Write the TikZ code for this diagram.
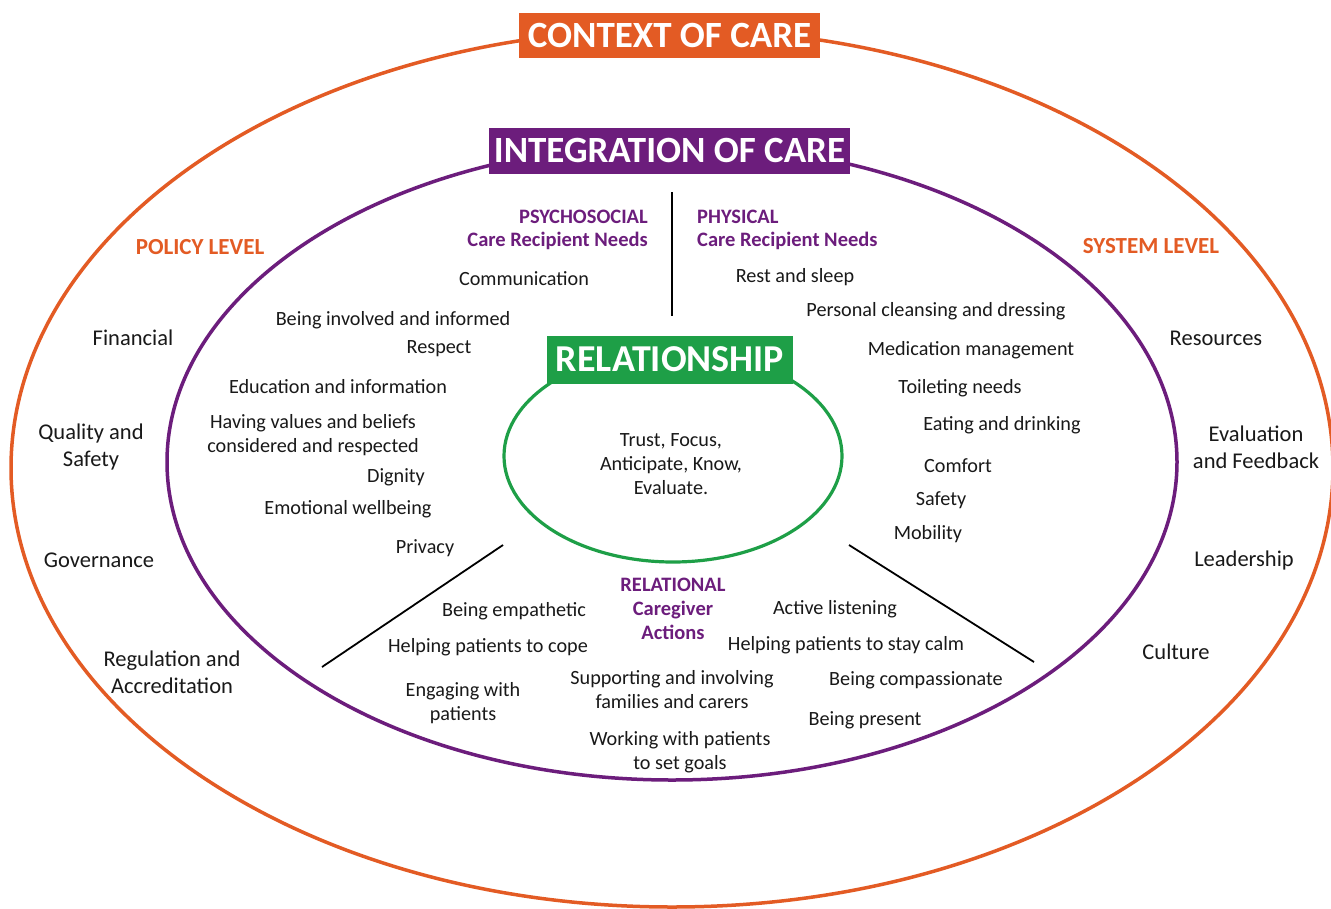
\documentclass[tikz,border=0pt]{standalone}
\usepackage{fontspec}
\setmainfont{Carlito}
\definecolor{corange}{HTML}{E35B24}
\definecolor{cpurple}{HTML}{6C1D7C}
\definecolor{cgreen}{HTML}{1E9F47}
\begin{document}
\begin{tikzpicture}[x=1pt,y=-1pt,
  txt/.style={font=\fontsize{20.2}{24}\selectfont, align=center, inner sep=0pt, text=black!90},
  outertxt/.style={font=\fontsize{22.5}{27}\selectfont, align=center, inner sep=0pt, text=black!90},
  needhead/.style={font=\bfseries\fontsize{20.5}{24}\selectfont, text=cpurple, inner sep=0pt},
  levelhead/.style={font=\bfseries\fontsize{23}{26}\selectfont, text=corange, inner sep=0pt},
  titlebox/.style={font=\bfseries, text=white, inner sep=0pt, anchor=center},
  divider/.style={draw=black, line width=1.8pt}
]
\useasboundingbox (0,0) rectangle (1331,908);
\fill[white] (0,0) rectangle (1331,908);

% ellipses
\draw[corange, line width=3.5pt] (672,468) ellipse [x radius=661pt, y radius=439pt];
\draw[cpurple, line width=3.5pt] (672,462) ellipse [x radius=505pt, y radius=318pt];
\draw[cgreen, line width=3.2pt] (673,456) ellipse [x radius=169pt, y radius=106pt];

% title boxes
\node[titlebox, fill=corange, minimum width=301pt, minimum height=45pt, font=\bfseries\fontsize{37}{40}\selectfont] (context) at (669.5,35) {CONTEXT OF CARE};
\node[titlebox, fill=cpurple, minimum width=361pt, minimum height=46pt, font=\bfseries\fontsize{37}{40}\selectfont] (integration) at (669.5,150.5) {INTEGRATION OF CARE};
\node[titlebox, fill=cgreen, minimum width=246pt, minimum height=48pt, font=\bfseries\fontsize{38}{41}\selectfont] (relationship) at (670,359.5) {RELATIONSHIP};

% dividers
\coordinate (vtop) at (672,192);
\coordinate (vbot) at (672,316);
\coordinate (ltop) at (503,545);
\coordinate (lbot) at (322,667);
\coordinate (rtop) at (849,545);
\coordinate (rbot) at (1034,662);
\draw[divider] (vtop) -- (vbot);
\draw[divider] (ltop) -- (lbot);
\draw[divider] (rtop) -- (rbot);

% level headings
\node[levelhead] (policy) at (200,247) {POLICY LEVEL};
\node[levelhead] (system) at (1151,246) {SYSTEM LEVEL};

% need headings
\node[needhead, anchor=east] (psy1) at (648,217) {PSYCHOSOCIAL};
\node[needhead, anchor=east] (psy2) at (648,241) {Care Recipient Needs};
\node[needhead, anchor=west] (phy1) at (697,217) {PHYSICAL};
\node[needhead, anchor=west] (phy2) at (697,241) {Care Recipient Needs};

% psychosocial needs
\node[txt] (comm) at (524,279) {Communication};
\node[txt] (involved) at (393,320) {Being involved and informed};
\node[txt] (respect) at (439,349) {Respect};
\node[txt] (edu) at (338,387) {Education and information};
\node[txt] (values) at (313,435) {Having values and beliefs\\considered and respected};
\node[txt] (dignity) at (396,477) {Dignity};
\node[txt] (emo) at (348,509) {Emotional wellbeing};
\node[txt] (privacy) at (425,548) {Privacy};

% physical needs
\node[txt] (rest) at (795,277) {Rest and sleep};
\node[txt] (cleansing) at (936,311) {Personal cleansing and dressing};
\node[txt] (medication) at (971,350) {Medication management};
\node[txt] (toileting) at (960,388) {Toileting needs};
\node[txt] (eating) at (1002,425) {Eating and drinking};
\node[txt] (comfort) at (958,466) {Comfort};
\node[txt] (safety) at (941,500) {Safety};
\node[txt] (mobility) at (928,534) {Mobility};

% policy level
\node[outertxt] (financial) at (133,338) {Financial};
\node[outertxt] (quality) at (91,447) {Quality and\\Safety};
\node[outertxt] (governance) at (99,560) {Governance};
\node[outertxt] (regulation) at (172,672) {Regulation and\\Accreditation};

% system level
\node[outertxt] (resources) at (1216,338) {Resources};
\node[outertxt] (evaluation) at (1256,447) {Evaluation\\and Feedback};
\node[outertxt] (leadership) at (1244,560) {Leadership};
\node[outertxt] (culture) at (1176,652) {Culture};

% relationship
\node[txt] (trust) at (671,464) {Trust, Focus,\\Anticipate, Know,\\Evaluate.};

% relational actions
\node[needhead, align=center] (relational) at (673,609) {RELATIONAL\\Caregiver\\Actions};
\node[txt] (empathetic) at (514,611) {Being empathetic};
\node[txt] (cope) at (488,647) {Helping patients to cope};
\node[txt] (listening) at (835,609) {Active listening};
\node[txt] (calm) at (846,645) {Helping patients to stay calm};
\node[txt] (engaging) at (463,703) {Engaging with\\patients};
\node[txt] (supporting) at (672,690) {Supporting and involving\\families and carers};
\node[txt] (compassionate) at (916,680) {Being compassionate};
\node[txt] (present) at (865,720) {Being present};
\node[txt] (goals) at (680,752) {Working with patients\\to set goals};
\end{tikzpicture}
\end{document}
